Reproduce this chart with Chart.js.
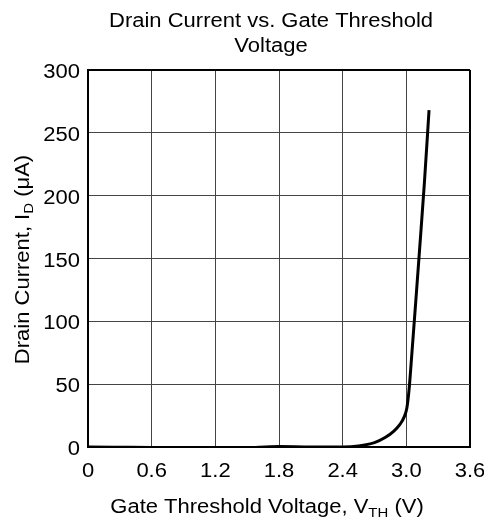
<!DOCTYPE html>
<html>
<head>
  <meta charset="UTF-8">
  <title>Drain Current vs. Gate Threshold Voltage</title>
  <script src="https://cdn.jsdelivr.net/npm/chart.js"></script>
  <style>
    html, body { margin: 0; padding: 0; background: #fff; }
    #wrap { width: 484px; height: 520px; position: relative; }
  </style>
</head>
<body>
  <div id="wrap"><canvas id="grafico"></canvas></div>
  <script>
    // dados
    const vth = [0, 0.3, 0.6, 0.9, 1.2, 1.5, 1.8, 2.1, 2.4, 2.55, 2.7, 2.8, 2.88, 2.94, 2.98, 3.005, 3.025, 3.05, 3.09, 3.13, 3.17, 3.214];
    const idrain = [0, -0.2, -0.4, -0.8, -1, -0.5, 0.3, 0, 0, 0.8, 3.5, 7.5, 12.5, 18, 24, 31, 45, 72, 117, 163, 210, 268];
    const xTicks = ['0', '0.6', '1.2', '1.8', '2.4', '3.0', '3.6'];
    const yTicks = ['0', '50', '100', '150', '200', '250', '300'];

    const titleLines = ['Drain Current vs. Gate Threshold', 'Voltage'];
    const xTitle = [['Gate Threshold Voltage, V', false], ['TH', true], [' (V)', false]];
    const yTitle = [['Drain Current, I', false], ['D', true], [' (\u03bcA)', false]];

    const FONT = '"Liberation Sans", Arial, sans-serif';
    const SIZE = 20;
    const STRETCH = 1.1;

    function richWidth(ctx, parts, size) {
      let w = 0;
      parts.forEach(([t, sub]) => {
        ctx.font = (sub ? size * 0.68 : size) + 'px ' + FONT;
        w += ctx.measureText(t).width;
      });
      return w;
    }

    function drawRich(ctx, parts, size, cx, baseY) {
      const w = richWidth(ctx, parts, size);
      let x = cx - w / 2;
      ctx.textAlign = 'left';
      ctx.textBaseline = 'alphabetic';
      parts.forEach(([t, sub]) => {
        ctx.font = (sub ? size * 0.68 : size) + 'px ' + FONT;
        ctx.fillText(t, x, sub ? baseY + size * 0.18 : baseY);
        x += ctx.measureText(t).width;
      });
    }

    // texto esticado na horizontal como no original
    function texto(ctx, t, x, y, align) {
      ctx.save();
      ctx.translate(x, y);
      ctx.scale(STRETCH, 1);
      ctx.textAlign = align;
      ctx.textBaseline = 'alphabetic';
      ctx.fillText(t, 0, 0);
      ctx.restore();
    }

    const textos = {
      id: 'textos',
      afterDraw(chart) {
        const ctx = chart.ctx;
        const area = chart.chartArea;
        const sx = chart.scales.x, sy = chart.scales.y;
        ctx.save();
        ctx.fillStyle = '#000';
        ctx.font = SIZE + 'px ' + FONT;
        // titulo
        titleLines.forEach((l, i) => texto(ctx, l, 271, 27 + i * 25, 'center'));
        // rotulos dos eixos
        xTicks.forEach(t => texto(ctx, t, sx.getPixelForValue(parseFloat(t)), 477, 'center'));
        yTicks.forEach(t => texto(ctx, t, 80, sy.getPixelForValue(parseFloat(t)) + 8, 'right'));
        // titulo eixo x
        ctx.save();
        ctx.translate(267, 513);
        ctx.scale(STRETCH, 1);
        drawRich(ctx, xTitle, SIZE, 0, 0);
        ctx.restore();
        // titulo eixo y
        ctx.save();
        ctx.translate(29, (area.top + area.bottom) / 2 + 1);
        ctx.rotate(-Math.PI / 2);
        ctx.scale(STRETCH, 1);
        drawRich(ctx, yTitle, SIZE, 0, 0);
        ctx.restore();
        ctx.restore();
      }
    };

    const pontos = vth.map((v, i) => ({ x: v, y: idrain[i] }));

    const gridCor = (c, max) => (c.tick && Math.abs(c.tick.value - max) < 1e-6) ? '#000' : '#444';
    const gridLarg = (c, max) => (c.tick && Math.abs(c.tick.value - max) < 1e-6) ? 2 : 1;

    const grafico = new Chart(document.getElementById('grafico'), {
      type: 'line',
      data: {
        datasets: [{
          data: pontos,
          borderColor: '#000',
          borderWidth: 3,
          pointRadius: 0,
          fill: false,
          cubicInterpolationMode: 'monotone'
        }]
      },
      options: {
        responsive: true,
        maintainAspectRatio: false,
        animation: false,
        layout: { padding: { top: 70, right: 14, left: 0, bottom: 0 } },
        plugins: { legend: { display: false }, tooltip: { enabled: false } },
        scales: {
          x: {
            type: 'linear',
            min: 0, max: 3.6,
            afterBuildTicks: s => { s.ticks = xTicks.map(t => ({ value: parseFloat(t) })); },
            afterFit: s => { s.height = 73; s.paddingLeft = 0; s.paddingRight = 0; },
            ticks: { display: false },
            grid: { drawTicks: false, color: c => gridCor(c, 3.6), lineWidth: c => gridLarg(c, 3.6) },
            border: { color: '#000', width: 2 }
          },
          y: {
            min: 0, max: 300,
            afterBuildTicks: s => { s.ticks = yTicks.map(t => ({ value: parseFloat(t) })); },
            afterFit: s => { s.width = 88; s.paddingTop = 0; s.paddingBottom = 0; },
            ticks: { display: false },
            grid: { drawTicks: false, color: c => gridCor(c, 300), lineWidth: c => gridLarg(c, 300) },
            border: { color: '#000', width: 2 }
          }
        }
      },
      plugins: [textos]
    });
  </script>
</body>
</html>
